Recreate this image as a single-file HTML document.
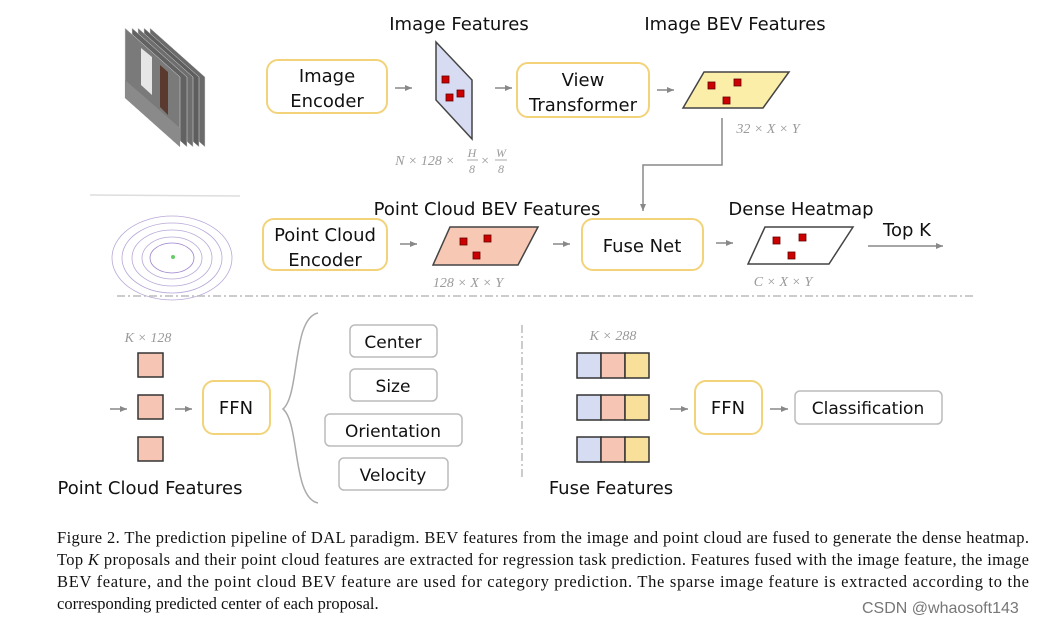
<!DOCTYPE html>
<html><head><meta charset="utf-8"><style>
html,body{margin:0;padding:0;background:#fff;}
svg{display:block;}
.t{font-family:"DejaVu Sans","Liberation Sans",sans-serif;fill:#111;}
.g{font-family:"Liberation Serif",serif;fill:#9a9a9a;font-style:italic;}
.c{font-family:"Liberation Serif",serif;fill:#111;font-size:16.5px;}
</style></head><body>
<svg width="1037" height="623" viewBox="0 0 1037 623" xmlns="http://www.w3.org/2000/svg">
<defs>
<marker id="a" markerWidth="8" markerHeight="8" refX="7" refY="4" orient="auto" markerUnits="userSpaceOnUse"><path d="M0,1 L7,4 L0,7 z" fill="#888"/></marker>
</defs>
<!-- camera stack -->
<g stroke="#ddd" stroke-width="0.5">
<polygon points="150,28 205,77 205,147 150,98" fill="#6a6a6a"/>
<polygon points="144,28 199,77 199,147 144,98" fill="#5e5e5e"/>
<polygon points="138,28 193,77 193,147 138,98" fill="#6e6e6e"/>
<polygon points="132,28 187,77 187,147 132,98" fill="#626262"/>
<polygon points="125,28 180,77 180,147 125,98" fill="#7a7a7a"/>
</g>
<polygon points="141,48 152,57 152,95 141,85" fill="#e6e6e6"/>
<polygon points="160,65 168,72 168,115 160,107" fill="#5a3a2e"/>
<polygon points="125,80 180,128 180,147 125,98" fill="#8a8a8a"/>
<!-- point cloud -->
<g fill="none" stroke="#b8a8d8" stroke-width="0.8">
<ellipse cx="172" cy="258" rx="60" ry="42"/><ellipse cx="172" cy="258" rx="50" ry="35"/><ellipse cx="172" cy="258" rx="40" ry="28"/><ellipse cx="172" cy="258" rx="30" ry="21"/><ellipse cx="172" cy="258" rx="22" ry="15" stroke="#9a80cc"/></g>
<ellipse cx="172" cy="258" rx="12" ry="7" fill="#fff"/>
<circle cx="173" cy="257" r="2" fill="#6c6"/>
<line x1="90" y1="195" x2="240" y2="196" stroke="#ddd" stroke-width="1.5"/>
<!-- boxes -->
<g fill="#fff" stroke="#f2d37a" stroke-width="2">
<rect x="267" y="60" width="120" height="53" rx="11"/>
<rect x="517" y="63" width="132" height="54" rx="11"/>
<rect x="263" y="219" width="124" height="51" rx="11"/>
<rect x="582" y="219" width="121" height="51" rx="11"/>
<rect x="203" y="381" width="67" height="53" rx="11"/>
<rect x="695" y="381" width="67" height="53" rx="11"/>
</g>
<g class="t" font-size="18" text-anchor="middle">
<text x="327" y="82">Image</text><text x="327" y="107">Encoder</text>
<text x="583" y="86">View</text><text x="583" y="111">Transformer</text>
<text x="325" y="241">Point Cloud</text><text x="325" y="266">Encoder</text>
<text x="642" y="252">Fuse Net</text>
<text x="236" y="414">FFN</text><text x="728" y="414">FFN</text>
<text x="459" y="30">Image Features</text>
<text x="735" y="30">Image BEV Features</text>
<text x="487" y="215">Point Cloud BEV Features</text>
<text x="801" y="215">Dense Heatmap</text>
<text x="907" y="236">Top K</text>
<text x="150" y="494">Point Cloud Features</text>
<text x="611" y="494">Fuse Features</text>
</g>
<g stroke="#888" stroke-width="1.5" marker-end="url(#a)">
<line x1="395" y1="88" x2="412" y2="88"/><line x1="495" y1="88" x2="512" y2="88"/>
<line x1="657" y1="90" x2="674" y2="90"/>
<line x1="400" y1="244" x2="417" y2="244"/><line x1="553" y1="244" x2="570" y2="244"/>
<line x1="716" y1="243" x2="733" y2="243"/>
<line x1="868" y1="246" x2="943" y2="246"/>
<line x1="110" y1="409" x2="127" y2="409"/><line x1="175" y1="409" x2="192" y2="409"/>
<line x1="670" y1="409" x2="688" y2="409"/><line x1="770" y1="409" x2="788" y2="409"/>
<polyline points="722,118 722,165 643,165 643,211" fill="none"/>
</g>
<!-- parallelograms -->
<g stroke="#444" stroke-width="1.5">
<polygon points="436,42 472,80 472,139 436,100" fill="#d8dcf3"/>
<polygon points="704,72 789,72 763,108 683,108" fill="#fbeea8"/>
<polygon points="450,227 538,227 518,265 433,265" fill="#f7c8b4"/>
<polygon points="765,227 853,227 829,264 748,264" fill="#fff"/>
</g>
<g fill="#c00" stroke="#600" stroke-width="0.8">
<rect x="442" y="76" width="7" height="7"/><rect x="446" y="94" width="7" height="7"/><rect x="457" y="90" width="7" height="7"/>
<rect x="708" y="82" width="7" height="7"/><rect x="734" y="79" width="7" height="7"/><rect x="723" y="97" width="7" height="7"/>
<rect x="460" y="238" width="7" height="7"/><rect x="484" y="235" width="7" height="7"/><rect x="473" y="252" width="7" height="7"/>
<rect x="773" y="237" width="7" height="7"/><rect x="799" y="234" width="7" height="7"/><rect x="788" y="252" width="7" height="7"/>
</g>
<g class="g" font-size="14" text-anchor="middle">
<text x="425" y="165">N × 128 ×</text>
<text x="472" y="157" font-size="12">H</text><line x1="467" y1="160" x2="478" y2="160" stroke="#aaa"/><text x="472" y="173" font-size="12">8</text>
<text x="485" y="165">×</text>
<text x="501" y="157" font-size="12">W</text><line x1="495" y1="160" x2="507" y2="160" stroke="#aaa"/><text x="501" y="173" font-size="12">8</text>
<text x="768" y="133">32 × X × Y</text>
<text x="468" y="287">128 × X × Y</text>
<text x="783" y="286">C × X × Y</text>
<text x="148" y="342">K × 128</text>
<text x="613" y="340">K × 288</text>
</g>
<line x1="117" y1="296" x2="973" y2="296" stroke="#bbb" stroke-width="1.5" stroke-dasharray="8,3,2,3"/>
<line x1="522" y1="325" x2="522" y2="480" stroke="#bbb" stroke-width="1.5" stroke-dasharray="8,3,2,3"/>
<!-- bottom left -->
<g fill="#f6c5b3" stroke="#333" stroke-width="1.5">
<rect x="138" y="353" width="25" height="24"/><rect x="138" y="395" width="25" height="24"/><rect x="138" y="437" width="25" height="24"/>
</g>
<path d="M318,313 C292,318 300,395 283,409 C300,423 292,498 318,503" fill="none" stroke="#aaa" stroke-width="1.5"/>
<g fill="#fff" stroke="#bbb" stroke-width="1.5">
<rect x="350" y="325" width="87" height="32" rx="5"/><rect x="350" y="369" width="87" height="32" rx="5"/>
<rect x="325" y="414" width="137" height="32" rx="5"/><rect x="339" y="458" width="109" height="32" rx="5"/>
<rect x="795" y="391" width="147" height="33" rx="5"/>
</g>
<g class="t" font-size="17" text-anchor="middle">
<text x="393" y="348">Center</text><text x="393" y="392">Size</text>
<text x="393" y="437">Orientation</text><text x="393" y="481">Velocity</text>
<text x="868" y="414">Classification</text>
</g>
<!-- fuse rows -->
<g stroke="#333" stroke-width="1.5">
<g><rect x="577" y="353" width="24" height="25" fill="#d6ddf2"/><rect x="601" y="353" width="24" height="25" fill="#f6c5b3"/><rect x="625" y="353" width="24" height="25" fill="#f8df9a"/></g>
<g><rect x="577" y="395" width="24" height="25" fill="#d6ddf2"/><rect x="601" y="395" width="24" height="25" fill="#f6c5b3"/><rect x="625" y="395" width="24" height="25" fill="#f8df9a"/></g>
<g><rect x="577" y="437" width="24" height="25" fill="#d6ddf2"/><rect x="601" y="437" width="24" height="25" fill="#f6c5b3"/><rect x="625" y="437" width="24" height="25" fill="#f8df9a"/></g>
</g>
<!-- caption -->
<text class="c" x="57" y="543" textLength="972" lengthAdjust="spacing">Figure 2. The prediction pipeline of DAL paradigm. BEV features from the image and point cloud are fused to generate the dense heatmap.</text>
<text class="c" x="57" y="565" textLength="972" lengthAdjust="spacing">Top <tspan font-style="italic">K</tspan> proposals and their point cloud features are extracted for regression task prediction. Features fused with the image feature, the image</text>
<text class="c" x="57" y="587" textLength="972" lengthAdjust="spacing">BEV feature, and the point cloud BEV feature are used for category prediction. The sparse image feature is extracted according to the</text>
<text class="c" x="57" y="609">corresponding predicted center of each proposal.</text>
<text x="862" y="613" font-family="Liberation Sans,sans-serif" font-size="16" fill="#777">CSDN @whaosoft143</text>
</svg>
</body></html>
